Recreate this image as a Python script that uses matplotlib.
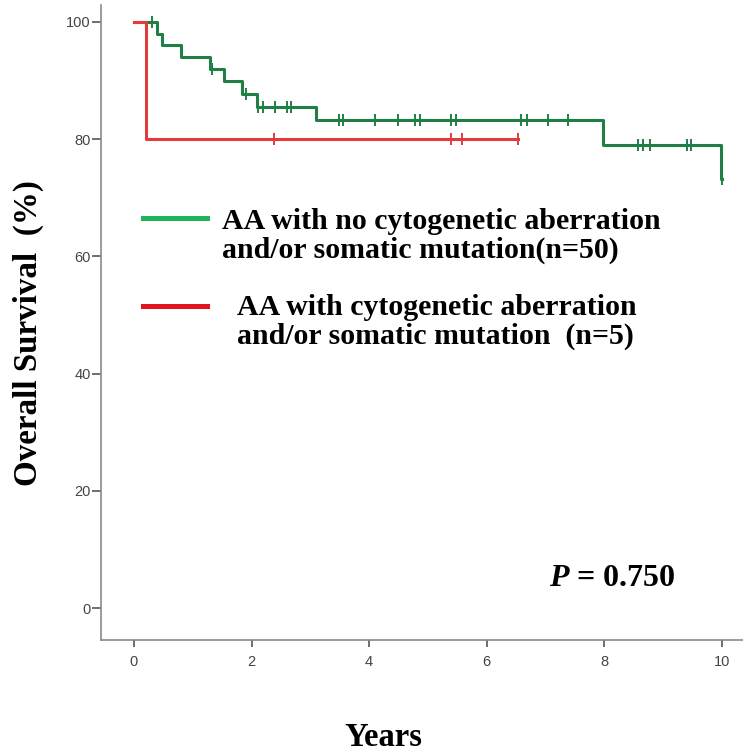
import numpy as np
import matplotlib
matplotlib.use('Agg')
import matplotlib.pyplot as plt
from matplotlib.lines import Line2D

# Kaplan-Meier step data (years, survival %)
green_times = [0.0, 0.40, 0.47, 0.80, 1.29, 1.53, 1.84, 2.09, 3.09, 7.98, 9.99]
green_surv = [100, 98, 96, 94, 92, 90, 87.7, 85.5, 83.2, 79.0, 73.2]
green_end = 10.0
green_censor = [0.30, 1.33, 1.90, 2.11, 2.20, 2.40, 2.61, 2.68, 3.49, 3.56,
                4.10, 4.49, 4.78, 4.86, 5.40, 5.48, 6.59, 6.68, 7.05, 7.39,
                8.58, 8.66, 8.78, 9.40, 9.48, 10.0]

red_times = [0.0, 0.20]
red_surv = [100, 80]
red_end = 6.53
red_censor = [2.38, 5.40, 5.58, 6.53]

green_label = 'AA with no cytogenetic aberration\nand/or somatic mutation(n=50)'
red_label = 'AA with cytogenetic aberration\nand/or somatic mutation  (n=5)'
p_text = '$\\mathbfit{P}$ = 0.750'

x_ticks = [0, 2, 4, 6, 8, 10]
y_ticks = [0, 20, 40, 60, 80, 100]

GREEN = '#1f7f45'
RED = '#e23b3b'
SERIF = 'Liberation Serif'


def km_curve(ax, times, surv, end, censor, color):
    t = list(times) + [end]
    s = list(surv) + [surv[-1]]
    ax.step(t, s, where='post', color=color, lw=2.2, zorder=3)
    idx = np.searchsorted(times, censor, side='right') - 1
    cy = np.array(surv)[idx]
    ax.plot(censor, cy, ls='none', marker='|', ms=8, mew=1.4,
            color=color, zorder=4)


fig = plt.figure(figsize=(7.43, 7.55), dpi=100)
ax = fig.add_axes([101 / 743, 1 - 640 / 755, 642 / 743, 635 / 755])

km_curve(ax, green_times, green_surv, green_end, green_censor, GREEN)
km_curve(ax, red_times, red_surv, red_end, red_censor, RED)

ax.set_xlim(-0.56, 10.36)
ax.set_ylim(-5.46, 102.9)
ax.set_xticks(x_ticks)
ax.set_yticks(y_ticks)

for side in ['top', 'right']:
    ax.spines[side].set_visible(False)
for side in ['left', 'bottom']:
    ax.spines[side].set_color('#8a8a8a')
    ax.spines[side].set_linewidth(1.2)

ax.tick_params(axis='both', direction='out', color='#555555', width=1.2,
               labelcolor='#444444', labelsize=10.5)
ax.tick_params(axis='y', length=6.5, pad=1)
ax.tick_params(axis='x', length=5, pad=6)
for lab in ax.get_xticklabels() + ax.get_yticklabels():
    lab.set_family('Liberation Sans')

# axis titles
fig.text(383 / 743, 1 - 738 / 755, 'Years', family=SERIF, weight='bold',
         fontsize=23.5, ha='center', va='center')
fig.text(28 / 743, 1 - 333 / 755, 'Overall Survival  (%)', family=SERIF,
         weight='bold', fontsize=23.8, rotation=90, ha='center', va='center')

# legend
fig.add_artist(Line2D([143 / 743, 207 / 743], [1 - 218 / 755] * 2,
                      color='#1fb35a', lw=3.6))
fig.add_artist(Line2D([143 / 743, 207 / 743], [1 - 306 / 755] * 2,
                      color='#e0141e', lw=3.6))
fig.text(222 / 743, 1 - 236 / 755, green_label, family=SERIF, weight='bold',
         fontsize=21.5, ha='left', va='center', linespacing=1.12)
fig.text(237 / 743, 1 - 322 / 755, red_label, family=SERIF, weight='bold',
         fontsize=21.5, ha='left', va='center', linespacing=1.12)

plt.rcParams['mathtext.fontset'] = 'custom'
plt.rcParams['mathtext.bfit'] = 'Liberation Serif:italic:bold'
fig.text(612 / 743, 1 - 579 / 755, p_text, family=SERIF, weight='bold',
         fontsize=23, ha='center', va='center')

fig.savefig('out.png', dpi=100)
